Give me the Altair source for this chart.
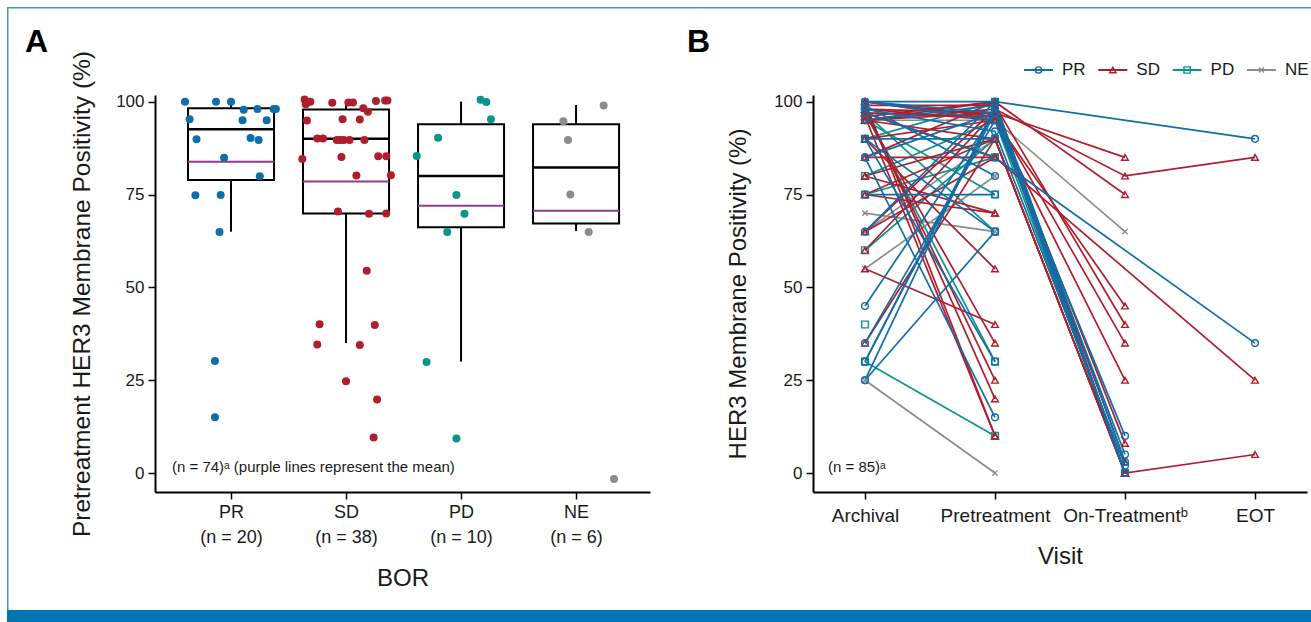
import json
import altair as alt
import pandas as pd

FONT = "Liberation Sans"
TEXT_COLOR = "#1A1A1A"
GROUPS = ["PR", "SD", "PD", "NE"]
N_BOR = [20, 38, 10, 6]
COLORS = ["#0F6EA8", "#AF1E2D", "#0B948C", "#8C8C8C"]
SHAPES = ["circle", "triangle-up", "square", "M-0.8,-0.8L0.8,0.8M-0.8,0.8L0.8,-0.8"]
MEAN_COLOR = "#933A90"
FRAME_COLOR = "#4A91C6"
BAR_COLOR = "#0075B0"

# ---------------- Panel A data: pretreatment values per BOR (value, jitter) ----
pr_vals = [100, 100, 100, 97.8, 98, 98, 98, 95.3, 95, 95, 89.9, 90.2, 89.7, 84.9, 79.9, 74.8, 74.9, 64.9, 30.2, 15]
pr_jit = [-0.40, -0.13, 0.0, 0.11, 0.23, 0.37, 0.39, -0.36, 0.10, 0.31, -0.30, 0.17, 0.24, -0.06, 0.25, -0.31, -0.09, -0.10, -0.14, -0.14]
sd_vals = [100.6, 99.3, 99.7, 99.8, 99.8, 98.2, 97.3, 100.2, 100.3, 100.3, 94.9, 95.3, 95.2,
           90.1, 90.1, 89.7, 89.7, 89.7, 89.7, 89.7, 84.6, 85.1, 85.3, 85.3, 80.1, 80.2,
           70.4, 69.8, 69.9, 54.5, 40.1, 39.9, 34.6, 34.5, 24.7, 19.8, 9.6, 100.0]
sd_jit = [-0.36, -0.35, -0.12, 0.02, 0.06, 0.15, 0.19, 0.26, 0.34, 0.36, -0.34, -0.03, 0.12,
          -0.25, -0.20, -0.08, -0.05, -0.02, 0.03, 0.16, -0.38, -0.04, 0.28, 0.35, 0.09, 0.39,
          -0.07, 0.20, 0.35, 0.18, -0.23, 0.25, -0.25, 0.12, 0.00, 0.27, 0.24, -0.31]
pd_vals = [100.5, 99.9, 95.3, 90.3, 85.4, 74.9, 69.8, 64.9, 29.9, 9.3]
pd_jit = [0.17, 0.22, 0.26, -0.20, -0.385, -0.04, 0.03, -0.12, -0.30, -0.04]
ne_vals = [94.7, 89.7, 75.0, 64.9, 99.0, -1.6]
ne_jit = [-0.11, -0.07, -0.05, 0.11, 0.24, 0.33]

box_q1 = [78.9, 69.9, 66.2, 67.2]
box_med = [92.6, 90.0, 80.0, 82.3]
box_q3 = [98.2, 97.9, 93.9, 93.9]
box_lo = [65.0, 35.0, 30.0, 65.2]
box_hi = [100.0, 100.0, 100.0, 99.1]
box_mean = [83.8, 78.5, 72.0, 70.6]

# ---------------- Panel B data: one entry per patient ----------------
VISITS = ["Archival", "Pretreatment", "On-Treatment\u1d47", "EOT"]
N = None
pat_group = (["PR"] * 20) + (["SD"] * 30) + (["PD"] * 9) + (["NE"] * 6)
pat_arch = [100, 100, 95, 90, 90, 85, 75, 30, 25, 25, 35, 45, 97, 99, 90, 85, 65, 98, 30, 100,
            100, 99, 98, 97, 96, 95, 95, 100, 99, 97, 98, 85, 80, 75, 65, 60, 55, 35, 90, 75,
            95, 98, 90, 85, 97, 95, 80, 65, 100, 96,
            95, 97, 30, 40, 60, 80, 75, 97, 90,
            70, 25, 55, 65, 95, 97]
pat_pre = [100, 97, 99, 90, 30, 15, 75, 97, 99, 65, 95, 97, 85, 80, 65, 97, 100, 92, 98, 95,
           10, 20, 25, 35, 100, 98, 97, 95, 99, 96, 95, 85, 90, 90, 98, 97, 40, 90, 55, 70,
           100, 97, 95, 100, 85, 90, 70, 85, 96, 10,
           75, 65, 10, N, 90, 95, 85, 30, 100,
           65, 0, 80, 90, 95, 85]
pat_on = [N, N, 0, N, N, N, N, 5, 0, N, 10, N, N, N, N, 0, 3, 2, N, N,
          N, N, N, N, 75, 80, 85, 45, 40, 35, 25, N, 0, 0, 3, 0, N, 0, N, N,
          0, 8, N, N, N, N, N, N, N, N,
          N, N, N, N, 0, 0, N, N, N,
          N, N, N, N, 65, N]
pat_eot = [90, N, N, N, N, N, N, N, N, N, N, N, 35, N, N, N, N, N, N, N,
           N, N, N, N, N, 85, N, N, N, N, N, 25, 5, N, N, N, N, N, N, N,
           N, N, N, N, N, N, N, N, N, N,
           N, N, N, N, N, N, N, N, N,
           N, N, N, N, N, N]

# ---------------- layout (pixels) ----------------
A_X0, TOP_Y = 155, 95
A_W, PANEL_H = 495, 397
B_X0, B_W = 813, 494
SPACING = B_X0 - (A_X0 + A_W)
CANVAS_W, CANVAS_H = 1311, 622

# ---------------- build tables ----------------
pts_rows = []
for g, vals, jit in zip(GROUPS, [pr_vals, sd_vals, pd_vals, ne_vals], [pr_jit, sd_jit, pd_jit, ne_jit]):
    i = GROUPS.index(g) + 1
    for v, j in zip(vals, jit):
        pts_rows.append({"grp": g, "xj": i + j, "val": v})
pts_df = pd.DataFrame(pts_rows)

HALF = 0.374
box_df = pd.DataFrame({
    "i": [1, 2, 3, 4],
    "xl": [k + 1 - HALF for k in range(4)],
    "xr": [k + 1 + HALF for k in range(4)],
    "q1": box_q1, "med": box_med, "q3": box_q3,
    "lo": box_lo, "hi": box_hi, "mean": box_mean,
})

line_rows = []
order_groups = ["NE", "PD", "SD", "PR"]
for pid, g in enumerate(pat_group):
    for vi, col in enumerate([pat_arch, pat_pre, pat_on, pat_eot]):
        v = col[pid]
        if v is not None:
            line_rows.append({"pid": pid, "grp": g, "vi": vi, "val": v,
                              "draw": order_groups.index(g)})
line_df = pd.DataFrame(line_rows).sort_values(["draw", "pid", "vi"], kind="stable")

leg_df = pd.DataFrame({
    "grp": GROUPS,
    "lx0": [211 + 74.3 * k for k in range(4)],
})
leg_df["lx1"] = leg_df["lx0"] + 29
leg_df["lxm"] = leg_df["lx0"] + 14.5
leg_df["lxt"] = leg_df["lx0"] + 38

one = pd.DataFrame({"k": [0]})

# ---------------- scales / axes ----------------
yS = alt.Scale(domain=[-5.1, 101.8], nice=False, zero=False)
xA = alt.Scale(domain=[0.339, 4.643], nice=False, zero=False)
xB = alt.Scale(domain=[-0.4, 3.4], nice=False, zero=False)
cS = alt.Scale(domain=GROUPS, range=COLORS)
sS = alt.Scale(domain=GROUPS, range=SHAPES)


def y_axis(title, pad, size):
    return alt.Axis(values=[0, 25, 50, 75, 100], title=title, grid=False,
                    domainColor="black", domainWidth=2, tickColor="black", tickWidth=1.5,
                    tickSize=7, labelFontSize=17, labelColor=TEXT_COLOR, labelPadding=4,
                    titleFontSize=size, titleFontWeight="normal", titleColor=TEXT_COLOR,
                    titlePadding=pad)


labA = json.dumps([[g, f"(n = {n})"] for g, n in zip(GROUPS, N_BOR)])
xAxisA = alt.Axis(values=[1, 2, 3, 4], labelExpr=labA + "[datum.value - 1]", title="BOR",
                  grid=False, domainColor="black", domainWidth=2, tickColor="black",
                  tickWidth=1.5, tickSize=7, labelFontSize=18, labelLineHeight=25,
                  labelColor=TEXT_COLOR, labelPadding=4, labelOverlap=False, labelFlush=False,
                  titleFontSize=24, titleFontWeight="normal", titleColor=TEXT_COLOR,
                  titlePadding=20)
xAxisB = alt.Axis(values=[0, 1, 2, 3], labelExpr=json.dumps(VISITS) + "[datum.value]",
                  title="Visit", grid=False, domainColor="black", domainWidth=2,
                  tickColor="black", tickWidth=1.5, tickSize=7, labelFontSize=19,
                  labelColor=TEXT_COLOR, labelPadding=7, labelOverlap=False, labelFlush=False,
                  titleFontSize=24, titleFontWeight="normal", titleColor=TEXT_COLOR,
                  titlePadding=19)
yAxisA = y_axis("Pretreatment HER3 Membrane Positivity (%)", 21, 24.5)
yAxisB = y_axis("HER3 Membrane Positivity (%)", 23, 24)


def XA(f):
    return alt.X(f, scale=xA, axis=xAxisA)


def YA(f):
    return alt.Y(f, scale=yS, axis=yAxisA)


# ---------------- Panel A ----------------
base_box = alt.Chart(box_df)
wlo = base_box.mark_rule(color="black", strokeWidth=2).encode(
    x=XA("i:Q"), y=YA("lo:Q"), y2="q1:Q")
whi = base_box.mark_rule(color="black", strokeWidth=2).encode(
    x=XA("i:Q"), y=YA("q3:Q"), y2="hi:Q")
boxes = base_box.mark_rect(fill="white", stroke="black", strokeWidth=2).encode(
    x=XA("xl:Q"), x2="xr:Q", y=YA("q1:Q"), y2="q3:Q")
meds = base_box.mark_rule(color="black", strokeWidth=2.5).encode(
    x=XA("xl:Q"), x2="xr:Q", y=YA("med:Q"))
means = base_box.mark_rule(color=MEAN_COLOR, strokeWidth=2).encode(
    x=XA("xl:Q"), x2="xr:Q", y=YA("mean:Q"))
dots = alt.Chart(pts_df).mark_circle(size=64, opacity=1).encode(
    x=XA("xj:Q"), y=YA("val:Q"),
    color=alt.Color("grp:N", scale=cS, legend=None))
noteA = alt.Chart(one).mark_text(align="left", baseline="middle", fontSize=15,
                                  color=TEXT_COLOR).encode(
    x=alt.value(17), y=alt.value(372),
    text=alt.value("(n = 74)\u1d43 (purple lines represent the mean)"))
tagA = alt.Chart(one).mark_text(align="left", baseline="alphabetic", fontSize=32,
                                 fontWeight="bold", color="black").encode(
    x=alt.value(25 - A_X0), y=alt.value(52 - TOP_Y), text=alt.value("A"))

fx0 = 7 - A_X0
fy0 = 7 - TOP_Y
frame_left = alt.Chart(one).mark_rect(color=FRAME_COLOR).encode(
    x=alt.value(fx0), x2=alt.value(fx0 + 1.5), y=alt.value(fy0), y2=alt.value(610 - TOP_Y))
frame_top = alt.Chart(one).mark_rect(color=FRAME_COLOR).encode(
    x=alt.value(fx0), x2=alt.value(CANVAS_W - A_X0), y=alt.value(fy0), y2=alt.value(fy0 + 1.5))
bottom_bar = alt.Chart(one).mark_rect(color=BAR_COLOR).encode(
    x=alt.value(fx0), x2=alt.value(CANVAS_W - A_X0),
    y=alt.value(610 - TOP_Y), y2=alt.value(CANVAS_H - TOP_Y))

panelA = alt.layer(wlo, whi, boxes, meds, means, dots, frame_left, frame_top, bottom_bar,
                   noteA, tagA).properties(width=A_W, height=PANEL_H)

# ---------------- Panel B ----------------
XB = alt.X("vi:Q", scale=xB, axis=xAxisB)
YB = alt.Y("val:Q", scale=yS, axis=yAxisB)
lines = alt.Chart(line_df).mark_line(strokeWidth=1.7).encode(
    x=XB, y=YB,
    color=alt.Color("grp:N", scale=cS, legend=None),
    detail="pid:N", order="vi:Q")
marks = alt.Chart(line_df).mark_point(filled=False, size=45, strokeWidth=1.4, opacity=1).encode(
    x=XB, y=YB,
    color=alt.Color("grp:N", scale=cS, legend=None),
    shape=alt.Shape("grp:N", scale=sS, legend=None))
leg_line = alt.Chart(leg_df).mark_rule(strokeWidth=2).encode(
    x=alt.X("lx0:Q", scale=None, axis=None), x2="lx1:Q", y=alt.value(70 - TOP_Y),
    color=alt.Color("grp:N", scale=cS, legend=None))
leg_mark = alt.Chart(leg_df).mark_point(filled=False, size=40, strokeWidth=1.4, opacity=1).encode(
    x=alt.X("lxm:Q", scale=None, axis=None), y=alt.value(70 - TOP_Y),
    color=alt.Color("grp:N", scale=cS, legend=None),
    shape=alt.Shape("grp:N", scale=sS, legend=None))
leg_text = alt.Chart(leg_df).mark_text(align="left", baseline="middle", fontSize=17,
                                        color=TEXT_COLOR).encode(
    x=alt.X("lxt:Q", scale=None, axis=None), y=alt.value(70 - TOP_Y), text="grp:N")
noteB = alt.Chart(one).mark_text(align="left", baseline="middle", fontSize=15,
                                  color=TEXT_COLOR).encode(
    x=alt.value(15), y=alt.value(372), text=alt.value("(n = 85)\u1d43"))
tagB = alt.Chart(one).mark_text(align="left", baseline="alphabetic", fontSize=32,
                                 fontWeight="bold", color="black").encode(
    x=alt.value(687 - B_X0), y=alt.value(52 - TOP_Y), text=alt.value("B"))

panelB = alt.layer(lines, marks, leg_line, leg_mark, leg_text, noteB, tagB).properties(
    width=B_W, height=PANEL_H)

chart = alt.hconcat(panelA, panelB, spacing=SPACING, bounds="flush").properties(
    padding={"left": 7, "top": 7, "right": 0, "bottom": 0}
).configure(font=FONT).configure_view(stroke=None)

chart.save("out.html", embed_options={"renderer": "svg", "actions": False})
